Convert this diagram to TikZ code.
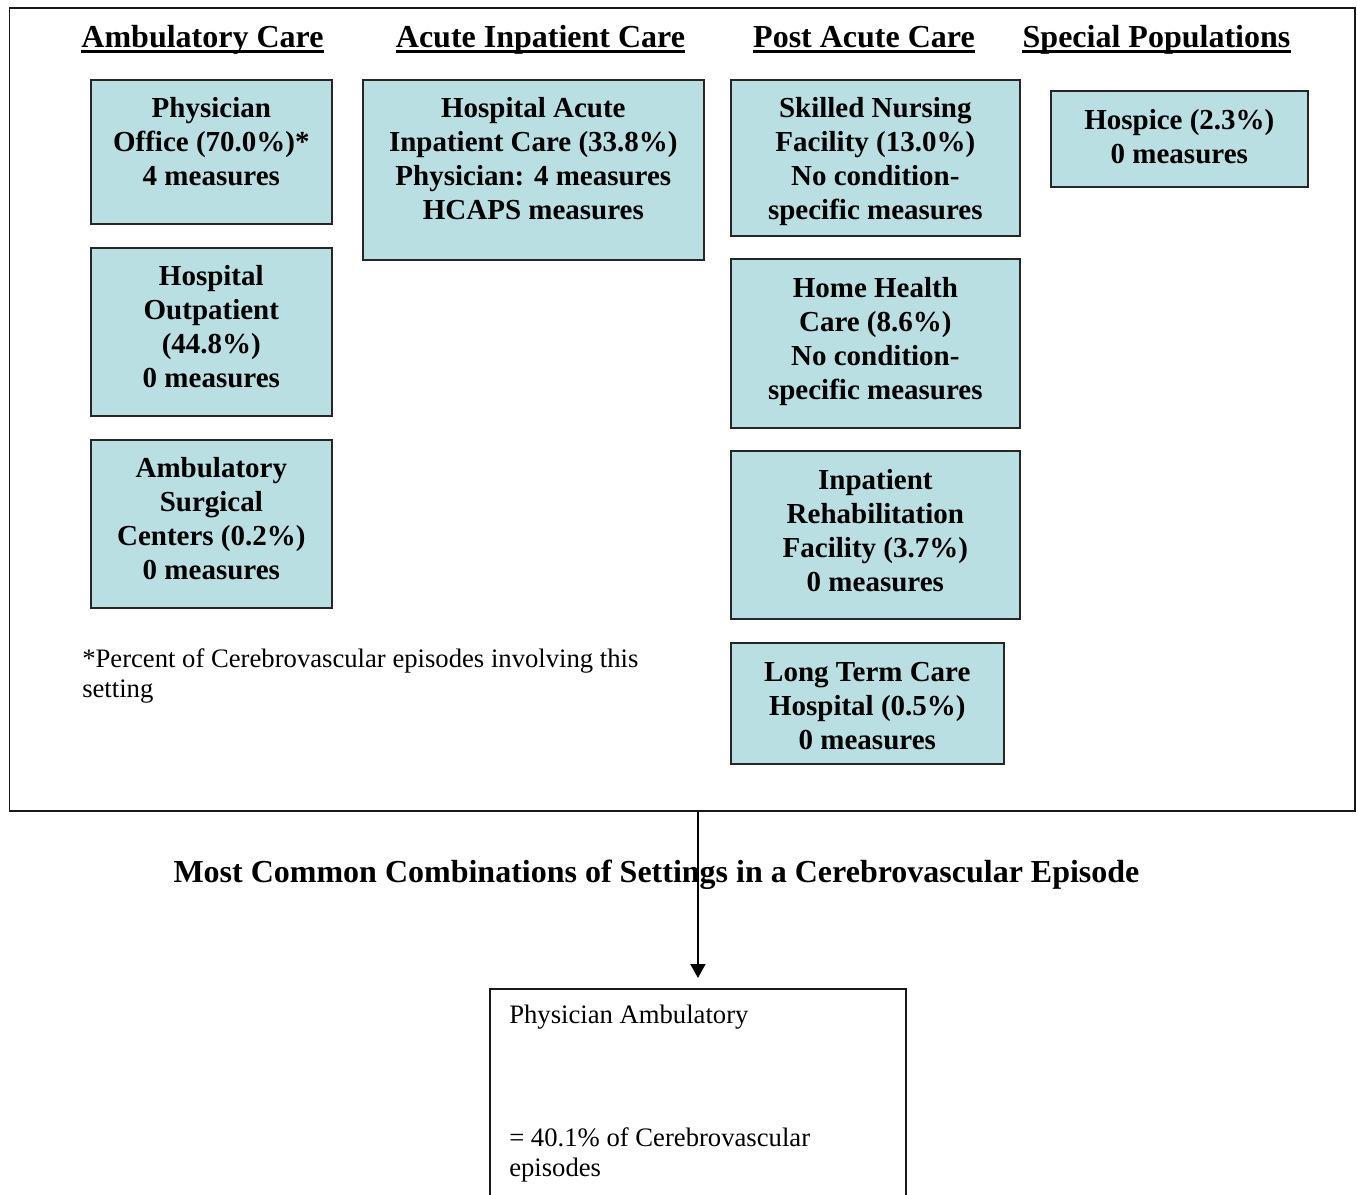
\documentclass[tikz,border=0pt]{standalone}
\usepackage{fontspec}
\setmainfont{Liberation Serif}
\usetikzlibrary{arrows.meta}

\definecolor{boxfill}{RGB}{185,223,227}
\newcommand{\boxfont}{\fontsize{21.75pt}{25.5pt}\selectfont\bfseries}
\newcommand{\headfont}{\fontsize{24pt}{28pt}\selectfont\bfseries}
\newcommand{\notefont}{\fontsize{20pt}{23pt}\selectfont}

\tikzset{
  settingbox/.style 2 args={draw=black!85, line width=1.25pt, fill=boxfill,
    anchor=north west, inner sep=0pt,
    minimum width={#1*0.75pt}, minimum height={#2*0.75pt}},
  settingtext/.style={anchor=north, inner sep=0pt, align=center, font=\boxfont},
  heading/.style={anchor=base, inner sep=0pt, font=\headfont},
  headrule/.style={line width=2.25pt},
  note/.style={anchor=north west, inner sep=0pt, align=left, font=\notefont},
  framebox/.style 2 args={draw=black!90, line width=1.4pt, anchor=north west,
    inner sep=0pt, minimum width={#1*0.75pt}, minimum height={#2*0.75pt}},
  flow/.style={draw=black, line width=1.3pt,
    -{Triangle[length=10.5pt,width=11.25pt]}, shorten >=7.5pt},
}

\begin{document}
\begin{tikzpicture}[x=0.75pt, y=-0.75pt]
\useasboundingbox (0,0) rectangle (1357,1195);
\clip (0,0) rectangle (1357,1195);

% outer frame holding all care settings
\node[framebox={1345.5}{803}] (frame) at (8.5,7) {};

% column headings
\node[heading] (h1) at (202.5,48) {Ambulatory Care};
\node[heading] (h2) at (540.5,48) {Acute Inpatient Care};
\node[heading] (h3) at (864,48) {Post Acute Care};
\node[heading] (h4) at (1156.5,48) {Special Populations};
\foreach \h in {h1,h2,h3,h4}
  \draw[headrule] ([yshift=-3pt]\h.base west) -- ([yshift=-3pt]\h.base east);

% ambulatory care
\node[settingbox={241}{144}] (po) at (90,79) {};
\node[settingtext] (pot) at ([yshift=-10.6pt]po.north)
  {\strut Physician\\Office (70.0\%)*\\4 measures};
\node[settingbox={241}{168}] (ho) at (90,247) {};
\node[settingtext] (hot) at ([yshift=-10.6pt]ho.north)
  {\strut Hospital\\Outpatient\\(44.8\%)\\0 measures};
\node[settingbox={241}{168}] (asc) at (90,439) {};
\node[settingtext] (asct) at ([yshift=-10.6pt]asc.north)
  {\strut Ambulatory\\Surgical\\Centers (0.2\%)\\0 measures};

% acute inpatient care
\node[settingbox={341}{180}] (hac) at (362,79) {};
\node[settingtext] (hact) at ([yshift=-10.6pt]hac.north)
  {\strut Hospital Acute\\Inpatient Care (33.8\%)\\Physician: 4 measures\\HCAPS measures};

% post acute care
\node[settingbox={289}{156}] (snf) at (730,79) {};
\node[settingtext] (snft) at ([yshift=-10.6pt]snf.north)
  {\strut Skilled Nursing\\Facility (13.0\%)\\No condition-\\specific measures};
\node[settingbox={289}{169}] (hh) at (730,258) {};
\node[settingtext] (hht) at ([yshift=-11.3pt]hh.north)
  {\strut Home Health\\Care (8.6\%)\\No condition-\\specific measures};
\node[settingbox={289}{168}] (irf) at (730,450) {};
\node[settingtext] (irft) at ([yshift=-11.3pt]irf.north)
  {\strut Inpatient\\Rehabilitation\\Facility (3.7\%)\\0 measures};
\node[settingbox={273}{121}] (ltc) at (730,642) {};
\node[settingtext] (ltct) at ([yshift=-11.3pt]ltc.north)
  {\strut Long Term Care\\Hospital (0.5\%)\\0 measures};

% special populations
\node[settingbox={257}{96}] (hsp) at (1050,90) {};
\node[settingtext] (hspt) at ([yshift=-11.3pt]hsp.north)
  {\strut Hospice (2.3\%)\\0 measures};

% footnote
\node[note] (fn) at (82,645.5)
  {\strut *Percent of Cerebrovascular episodes involving this\\setting};

% combinations title
\node[anchor=base, inner sep=0pt, font=\headfont] (title) at (656.5,882)
  {Most Common Combinations of Settings in a Cerebrovascular Episode};

% most common combination
\node[framebox={416}{320}] (bot) at (489,988) {};
\node[note] (bott1) at (509,1001.5) {\strut Physician Ambulatory};
\node[note] (bott2) at (509,1124.5)
  {\strut = 40.1\% of Cerebrovascular\\episodes};

\draw[flow] (frame.south -| bot.north) -- (bot.north);
\end{tikzpicture}
\end{document}
